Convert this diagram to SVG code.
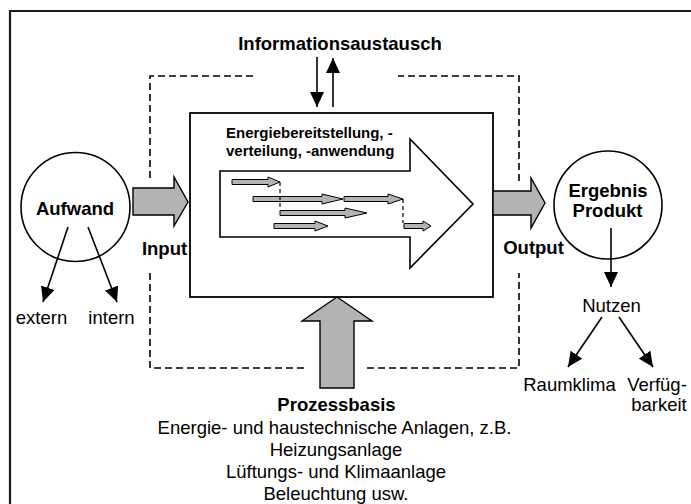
<svg xmlns="http://www.w3.org/2000/svg" width="691" height="504" viewBox="0 0 691 504">
<style>
text{font-family:"Liberation Sans",Arial,sans-serif;font-size:18.5px;fill:#000}
.b{font-weight:bold}
.m{text-anchor:middle}
.s{font-size:15px}
.ln{fill:none;stroke:#000;stroke-width:1.6}
.arr{fill:none;stroke:#000;stroke-width:1.6;marker-end:url(#ah)}
.dash{fill:none;stroke:#000;stroke-width:1.6;stroke-dasharray:7 4}
.gray{fill:#b3b3b3;stroke:#000;stroke-width:1.4;stroke-linejoin:miter}
.sm{fill:#b3b3b3;stroke:#000;stroke-width:1}
</style>
<defs>
<marker id="ah" markerUnits="userSpaceOnUse" markerWidth="16" markerHeight="14" refX="15" refY="7" orient="auto">
<path d="M0,0 L15,7 L0,14 z" fill="#000"/>
</marker>
</defs>
<rect width="691" height="504" fill="#fff"/>
<path d="M10,504 V11 H691" fill="none" stroke="#1a1a1a" stroke-width="2.2"/>

<g id="systemgrenze">
<path class="dash" d="M253,76 H150 V181"/>
<path class="dash" d="M150,273 V368 H305"/>
<path class="dash" d="M367,368 H519 V273"/>
<path class="dash" d="M519,181 V76 H398"/>
</g>

<g id="prozess">
<rect x="190" y="113" width="303" height="184" fill="#fff" stroke="#000" stroke-width="1.8"/>
<polygon points="220,171 410,171 410,139 473,204 410,268 410,237 220,237" fill="#fff" stroke="#000" stroke-width="1.6"/>
<text class="b s" x="226" y="138">Energiebereitstellung, -</text>
<text class="b s" x="226" y="156">verteilung, -anwendung</text>
<g id="teilprozesse">
<polygon class="sm" points="232,179.5 268,179.5 268,177 280,182 268,187 268,184.5 232,184.5"/>
<polygon class="sm" points="253,196.5 322,196.5 322,194 343,199 322,204 322,201.5 253,201.5"/>
<polygon class="sm" points="344,196.5 388,196.5 388,194 403,199 388,204 388,201.5 344,201.5"/>
<polygon class="sm" points="280,210.5 345,210.5 345,208 367,213 345,218 345,215.5 280,215.5"/>
<polygon class="sm" points="274,223.5 315,223.5 315,221 328,226 315,231 315,228.5 274,228.5"/>
<polygon class="sm" points="404,223.5 423,223.5 423,221 431,226 423,231 423,228.5 404,228.5"/>
<path d="M280,182 V210 M403,199 V223" fill="none" stroke="#000" stroke-width="1.2" stroke-dasharray="4 3"/>
</g>
</g>

<g id="info">
<text class="b m" x="340" y="50">Informationsaustausch</text>
</g>

<g id="aufwand">
<circle cx="75.5" cy="207" r="54.5" fill="#fff" stroke="#000" stroke-width="1.6"/>
<text class="b m" x="75" y="215">Aufwand</text>
</g>
<g id="extern"><text class="m" x="41.5" y="324">extern</text></g>
<g id="intern"><text class="m" x="111.5" y="324">intern</text></g>

<g id="input">
<polygon class="gray" points="133,188 174,188 174,177 188,202 174,226 174,215 133,215"/>
<text class="b m" x="164.5" y="255">Input</text>
</g>

<g id="output">
<polygon class="gray" points="493,191 531,191 531,178 545,203 531,228 531,215 493,215"/>
<text class="b m" x="533.5" y="254">Output</text>
</g>

<g id="ergebnis">
<circle cx="608" cy="205" r="54" fill="#fff" stroke="#000" stroke-width="1.6"/>
<text class="b m" x="608" y="197">Ergebnis</text>
<text class="b m" x="607.5" y="217">Produkt</text>
</g>
<g id="nutzen"><text class="m" x="611.5" y="312">Nutzen</text></g>
<g id="raumklima"><text class="m" x="569.5" y="391">Raumklima</text></g>
<g id="verfuegbarkeit">
<text class="m" x="657" y="391">Verfüg-</text>
<text class="m" x="659" y="411">barkeit</text>
</g>

<g id="prozessbasis">
<polygon class="gray" points="320,388 320,321 302,321 337,297 372,321 354,321 354,388"/>
<text class="b m" x="336.5" y="411">Prozessbasis</text>
<text class="m" x="334.5" y="434">Energie- und haustechnische Anlagen, z.B.</text>
<text class="m" x="336" y="456">Heizungsanlage</text>
<text class="m" x="336" y="478">Lüftungs- und Klimaanlage</text>
<text class="m" x="336" y="500">Beleuchtung usw.</text>
</g>

<g id="connectors">
<line class="arr" x1="317" y1="57" x2="317" y2="107"/>
<line class="arr" x1="333" y1="107" x2="333" y2="58"/>
<line class="arr" x1="68" y1="227" x2="43" y2="302"/>
<line class="arr" x1="88" y1="227" x2="117" y2="302"/>
<line class="arr" x1="611" y1="228" x2="611" y2="287"/>
<line class="arr" x1="602" y1="317" x2="568" y2="367"/>
<line class="arr" x1="619" y1="317" x2="653" y2="367"/>
</g>
</svg>
